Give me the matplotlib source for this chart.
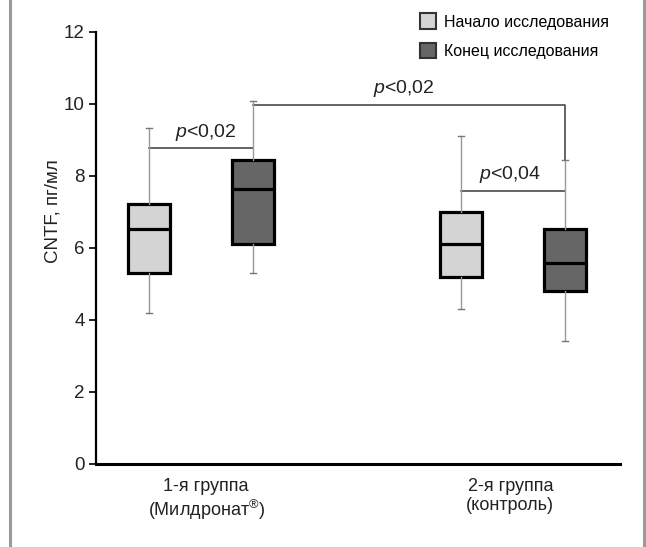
import numpy as np
import matplotlib
matplotlib.use('Agg')
import matplotlib.pyplot as plt
from matplotlib.patches import Patch
from matplotlib.lines import Line2D

plt.rcParams['font.family'] = ['Liberation Sans', 'DejaVu Sans']
plt.rcParams['mathtext.fontset'] = 'custom'
plt.rcParams['mathtext.it'] = 'Liberation Sans:italic'
plt.rcParams['mathtext.rm'] = 'Liberation Sans'

# box stats: whisker low, Q1, median, Q3, whisker high
series = ['Начало исследования', 'Конец исследования']
groups = ['1-я группа\n(Милдронат$^{®}$)', '2-я группа\n(контроль)']
start_low = [4.20, 4.30]
start_q1 = [5.31, 5.20]
start_med = [6.52, 6.10]
start_q3 = [7.21, 7.01]
start_high = [9.33, 9.12]
end_low = [5.31, 3.42]
end_q1 = [6.10, 4.81]
end_med = [7.63, 5.59]
end_q3 = [8.44, 6.52]
end_high = [10.09, 8.44]

yticks = [0, 2, 4, 6, 8, 10, 12]
colors = ['#d4d4d4', '#666666']

pos_start = [1, 7]
pos_end = [3, 9]
label_pos = [2.1, 7.95]

fig = plt.figure(figsize=(6.46, 5.47), dpi=100)
ax = fig.add_axes([96/646, 1-464/547, (620-96)/646, (464-32)/547])

def stats(lo, q1, med, q3, hi):
    return [dict(whislo=a, q1=b, med=c, q3=d, whishi=e, fliers=[])
            for a, b, c, d, e in zip(lo, q1, med, q3, hi)]

for st, pos, col in [(stats(start_low, start_q1, start_med, start_q3, start_high), pos_start, colors[0]),
                     (stats(end_low, end_q1, end_med, end_q3, end_high), pos_end, colors[1])]:
    b = ax.bxp(st, positions=pos, widths=0.8, patch_artist=True, showfliers=False,
               capwidths=0.12, manage_ticks=False, zorder=3,
               boxprops=dict(facecolor=col, edgecolor='black', linewidth=2.3),
               medianprops=dict(color='black', linewidth=2.3),
               whiskerprops=dict(color='#9a9a9a', linewidth=1.0),
               capprops=dict(color='#777777', linewidth=1.0))
    for k in b:
        for art in b[k]:
            art.set_clip_on(False)

bc = '#3a3a3a'
tc = '#222222'
# bracket 1: group 1 start vs end
y1 = 8.78
ax.plot([pos_start[0], pos_end[0]], [y1, y1], color=bc, lw=1.1, zorder=2)
ax.text(2.1, y1+0.15, '$p$<0,02', ha='center', va='bottom', fontsize=14, color=tc)
# bracket 2: group 1 end vs group 2 end
y2 = 9.97
ax.plot([pos_end[0], pos_end[1], pos_end[1]], [y2, y2, end_high[1]], color=bc, lw=1.1,
        zorder=2, clip_on=False)
ax.text(5.9, y2+0.18, '$p$<0,02', ha='center', va='bottom', fontsize=14, color=tc)
# bracket 3: group 2 start vs end
y3 = 7.59
ax.plot([pos_start[1], pos_end[1]], [y3, y3], color=bc, lw=1.1, zorder=2, clip_on=False)
ax.text(7.95, y3+0.17, '$p$<0,04', ha='center', va='bottom', fontsize=14, color=tc)

ax.set_xlim(-0.02, 10.06)
ax.set_ylim(0, 12)
ax.set_yticks(yticks)
ax.set_xticks(label_pos)
ax.set_xticklabels(groups, fontsize=13, color=tc, linespacing=1.15)
ax.tick_params(axis='x', length=0, pad=10)
ax.tick_params(axis='y', length=5, width=1.2, labelsize=13.5, labelcolor=tc, pad=3)
for s in ['top', 'right']:
    ax.spines[s].set_visible(False)
ax.spines['left'].set_linewidth(1.6)
ax.spines['bottom'].set_linewidth(2.2)
ax.set_ylabel('CNTF, пг/мл', fontsize=13.5, color=tc)
ax.yaxis.set_label_coords(-34/524, 0.586)

handles = [Patch(facecolor=colors[0], edgecolor='#333333', linewidth=1.5),
           Patch(facecolor=colors[1], edgecolor='#333333', linewidth=1.5)]
fig.legend(handles, series, loc='upper left', bbox_to_anchor=(414/646, 1-7/547),
           frameon=False, fontsize=11.5, handlelength=1.0, handleheight=1.15,
           handletextpad=0.45, labelspacing=0.8, borderaxespad=0)

# grey frame lines at the sides
for xp in [10/646, 644/646]:
    fig.add_artist(Line2D([xp, xp], [0, 1], color='#9a9a9a', lw=2.2))

fig.savefig('out.png', dpi=100)
